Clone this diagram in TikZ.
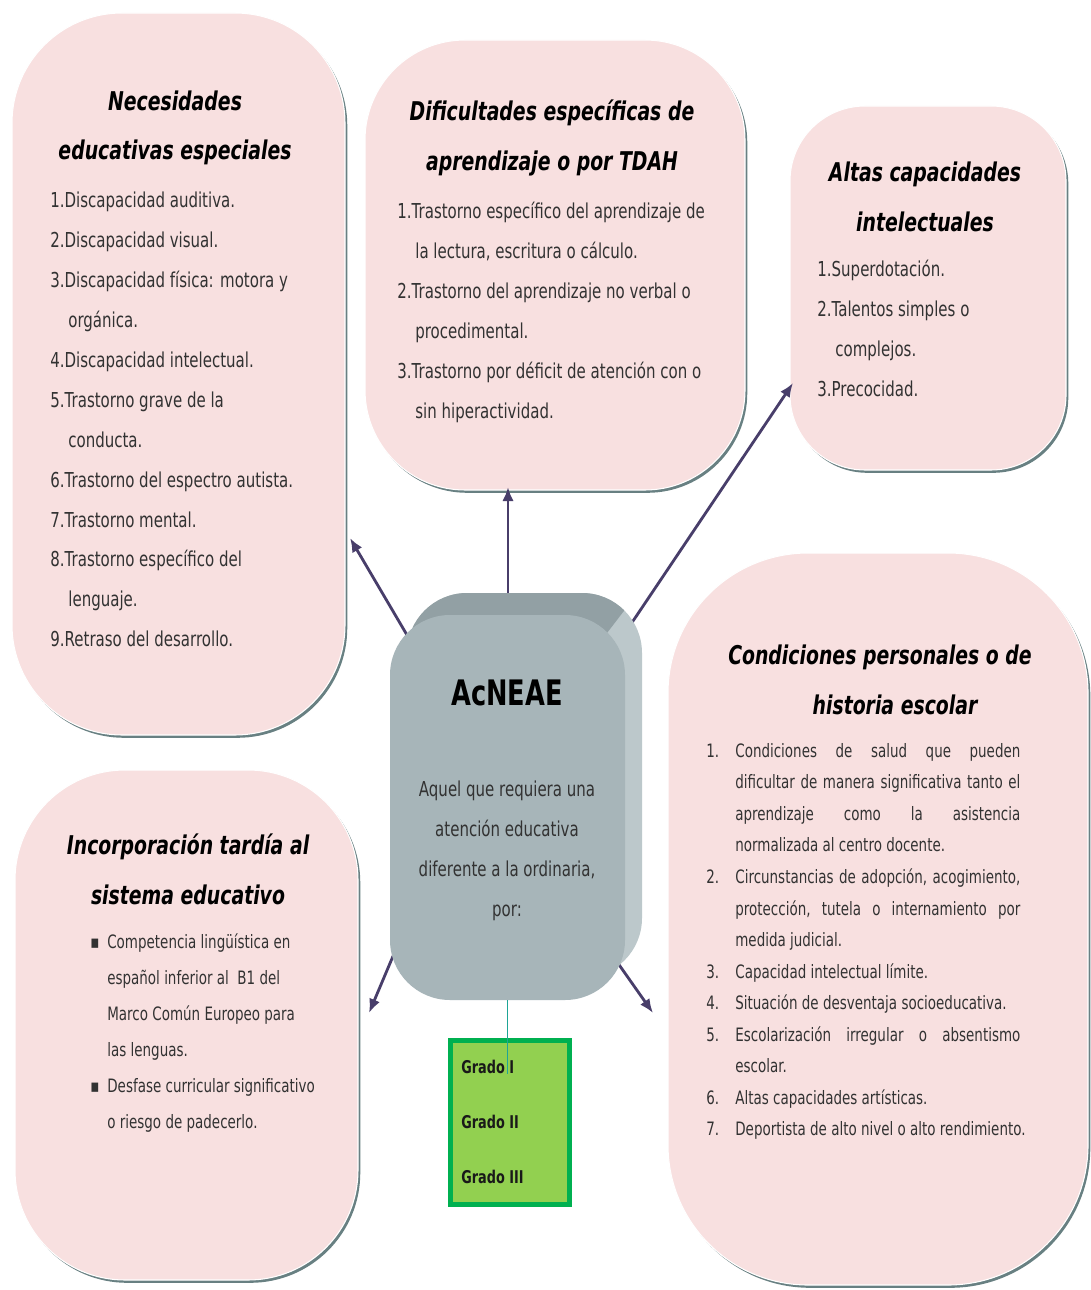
\documentclass[tikz,border=0pt]{standalone}
\usepackage{fontspec}
\setmainfont{DejaVu Sans}[FakeStretch=0.73]
\usetikzlibrary{arrows.meta, shadows, calc}

\newlength\unitpx
\setlength\unitpx{0.02cm}

\definecolor{boxpink}{RGB}{248,224,224}
\definecolor{boxshadow}{RGB}{104,128,130}
\definecolor{corefront}{RGB}{167,181,185}
\definecolor{coretop}{RGB}{146,160,164}
\definecolor{coreside}{RGB}{188,200,203}
\definecolor{arrowpurple}{RGB}{72,62,106}
\definecolor{linkteal}{RGB}{30,165,150}
\definecolor{gradofill}{RGB}{146,208,80}
\definecolor{gradoedge}{RGB}{0,176,80}
\definecolor{bodygray}{RGB}{50,50,50}

\newcommand\wrapind{\hspace*{18\unitpx}}
\newcommand\numtag[1]{\makebox[29\unitpx][l]{#1}}
\newcommand\numind{\hspace*{29\unitpx}}
\newcommand\bulletmark{\makebox[17\unitpx][l]{▪}}
\newcommand\bulletind{\hspace*{17\unitpx}}
\newcommand\jline[1]{\hbox to 285\unitpx{\frenchspacing\spaceskip=\fontdimen2\font plus 1fil\relax #1}}

\tikzset{
  pinkbox/.style={rectangle, fill=boxpink, draw=white, line width=0.6pt,
    drop shadow={shadow xshift=1.3pt, shadow yshift=-1.6pt, fill=boxshadow, opacity=1}},
  boxtitle/.style={align=center, inner sep=0pt, font=\fontsize{14.7}{28.3}\selectfont\bfseries\itshape},
  boxlist/.style={align=left, anchor=north west, inner sep=0pt, text=bodygray,
    font=\fontsize{11.7}{22.7}\selectfont},
  smalllist/.style={boxlist, font=\fontsize{10.5}{17.95}\selectfont},
  branch/.style={draw=arrowpurple, line width=1.6pt, -{Latex[length=8pt,width=6.5pt]}},
  gradotext/.style={anchor=west, inner sep=0pt, text=black!90,
    font=\fontsize{10}{12}\selectfont\bfseries},
}

\begin{document}
\begin{tikzpicture}[x=0.02cm, y=-0.02cm]
        \fill[white] (0,0) rectangle (1090,1290);
        \useasboundingbox (0,0) rectangle (1090,1290);

        % the five groups
        \node[pinkbox, minimum width=333\unitpx, minimum height=722\unitpx, rounded corners=110\unitpx] (nee) at (178.5,374) {};
        \node[pinkbox, minimum width=380\unitpx, minimum height=450\unitpx, rounded corners=100\unitpx] (dea) at (555,265) {};
        \node[pinkbox, minimum width=276\unitpx, minimum height=364\unitpx, rounded corners=75\unitpx] (aci) at (928,288) {};
        \node[pinkbox, minimum width=420\unitpx, minimum height=732\unitpx, rounded corners=140\unitpx] (cpe) at (878,919) {};
        \node[pinkbox, minimum width=343\unitpx, minimum height=510\unitpx, rounded corners=110\unitpx] (ita) at (186.5,1025) {};

        \node[boxtitle] (neetitle) at (175,128) {Necesidades\\educativas especiales};
        \node[boxlist] (neelist) at (50,192) {1.Discapacidad auditiva.\\
          2.Discapacidad visual.\\
          3.Discapacidad física: motora y\\
          \wrapind orgánica.\\
          4.Discapacidad intelectual.\\
          5.Trastorno grave de la\\
          \wrapind conducta.\\
          6.Trastorno del espectro autista.\\
          7.Trastorno mental.\\
          8.Trastorno específico del\\
          \wrapind lenguaje.\\
          9.Retraso del desarrollo.};

        \node[boxtitle] (deatitle) at (552,138) {Dificultades específicas de\\aprendizaje o por TDAH};
        \node[boxlist] (dealist) at (397,202) {1.Trastorno específico del aprendizaje de\\
          \wrapind la lectura, escritura o cálculo.\\
          2.Trastorno del aprendizaje no verbal o\\
          \wrapind procedimental.\\
          3.Trastorno por déficit de atención con o\\
          \wrapind sin hiperactividad.};

        \node[boxtitle] (acititle) at (925,197) {Altas capacidades\\intelectuales};
        \node[boxlist] (acilist) at (817,260) {1.Superdotación.\\
          2.Talentos simples o\\
          \wrapind complejos.\\
          3.Precocidad.};

        \node[boxtitle] (cpetitle) at (880,680) {Condiciones personales o de\\\hspace*{30\unitpx}historia escolar};
        \node[smalllist] (cpelist) at (706,743) {\numtag{1.}\jline{Condiciones de salud que pueden}\\
          \numind\jline{dificultar de manera significativa tanto el}\\
          \numind\jline{aprendizaje como la asistencia}\\
          \numind normalizada al centro docente.\\
          \numtag{2.}\jline{Circunstancias de adopción, acogimiento,}\\
          \numind\jline{protección, tutela o internamiento por}\\
          \numind medida judicial.\\
          \numtag{3.}Capacidad intelectual límite.\\
          \numtag{4.}Situación de desventaja socioeducativa.\\
          \numtag{5.}\jline{Escolarización irregular o absentismo}\\
          \numind escolar.\\
          \numtag{6.}Altas capacidades artísticas.\\
          \numtag{7.}Deportista de alto nivel o alto rendimiento.};

        \node[boxtitle] (itatitle) at (188,869) {Incorporación tardía al\\sistema educativo};
        \node[smalllist, font=\fontsize{10.5}{20.5}\selectfont] (italist) at (90,933) {\bulletmark Competencia lingüística en\\
          \bulletind español inferior al~ B1 del\\
          \bulletind Marco Común Europeo para\\
          \bulletind las lenguas.\\
          \bulletmark Desfase curricular significativo\\
          \bulletind o riesgo de padecerlo.};

        % arrows out of the centre
        \coordinate (hub) at (508,807);
        \coordinate (hubsw) at (456,807);
        \coordinate (tipnee) at (350,538);
        \coordinate (tipdea) at (508,487);
        \coordinate (tipaci) at (793,383);
        \coordinate (tipita) at (369,1013);
        \coordinate (tipcpe) at (653,1013);

        \draw[branch] (hub) -- (tipnee);
        \draw[branch] (hub) -- (tipdea);
        \draw[branch] (hub) -- (tipaci);
        \draw[branch] (hubsw) -- (tipita);
        \draw[branch] (hub) -- (tipcpe);

        % centre block
        \begin{scope}
          \clip[rounded corners=60\unitpx] (407,593) rectangle (642,978);
          \fill[coreside] (380,560) rectangle (680,1000);
          \fill[coretop] (380,560) -- (663,560) -- (607,633) -- (380,633) -- cycle;
        \end{scope}
        \node[rectangle, fill=corefront, rounded corners=60\unitpx, inner sep=0pt,
          minimum width=235\unitpx, minimum height=385\unitpx] (core) at (507.5,807.5) {};
        \node[inner sep=0pt, font=\fontsize{20}{24}\selectfont\bfseries] (coretitle) at (507,693) {AcNEAE};
        \node[align=center, inner sep=0pt, text=bodygray, font=\fontsize{11.7}{22.7}\selectfont] (coretext) at (507,851)
          {Aquel que requiera una\\atención educativa\\diferente a la ordinaria,\\por:};

        % grades
        \node[rectangle, draw=gradoedge, fill=gradofill, line width=2.6pt,
          minimum width=119\unitpx, minimum height=164\unitpx] (grado) at (510,1122.5) {};
        \foreach \g [count=\k] in {I,II,III}
          \node[gradotext] (g\k) at (461,1012+55*\k) {Grado \g};
        \draw[linkteal, line width=0.8pt] (core.south) -- (core.south |- g1.south);
\end{tikzpicture}
\end{document}
